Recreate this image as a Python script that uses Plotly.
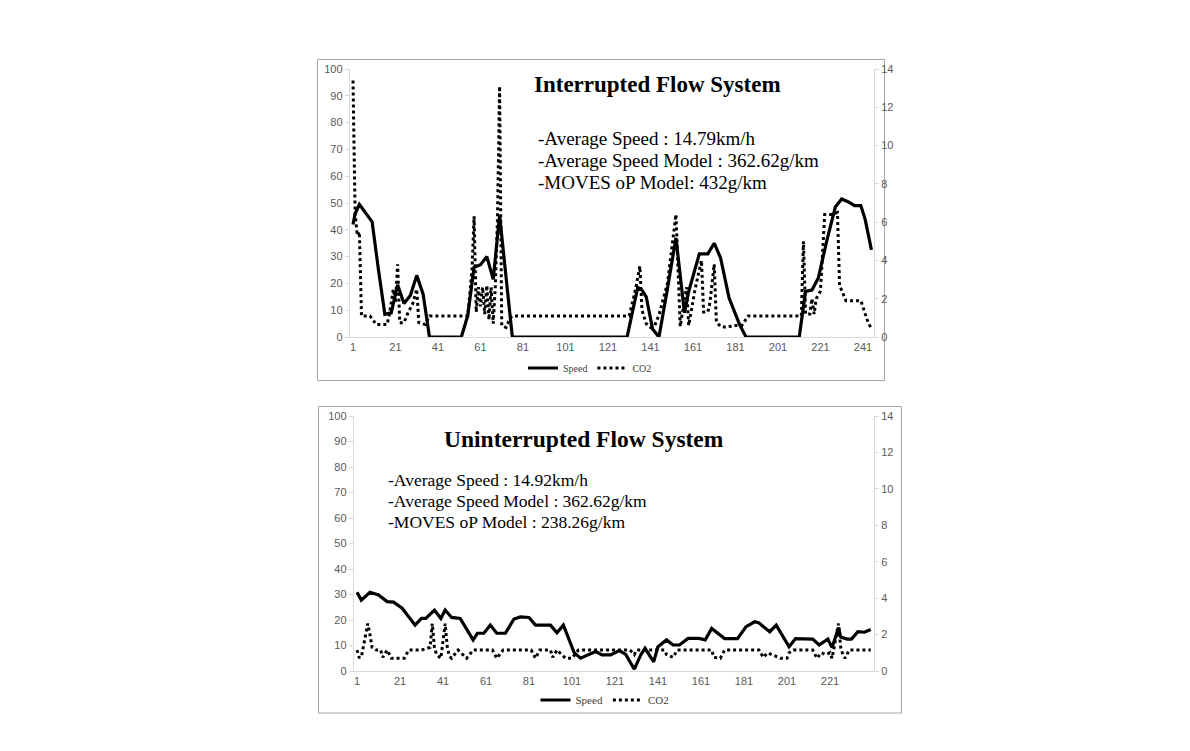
import plotly.graph_objects as go

W, H = 1190, 751

# ---------------- data: Interrupted Flow System ----------------
top_speed_x = [1, 2, 4, 7, 10, 13, 16, 19, 22, 25, 28, 31, 34, 37, 52, 55, 58, 61, 64, 67, 70, 74, 76,
               130, 135, 137, 139, 142, 145, 149, 153, 157, 159, 164, 168, 171, 174, 178, 183, 186,
               211, 214, 217, 220, 224, 228, 231, 234, 237, 240, 242, 245]
top_speed_y = [42, 46, 49.5, 46, 43, 25, 8.5, 9, 19.5, 12.5, 15.5, 23, 16, 0, 0, 8, 26, 27, 30, 21.5, 45.5, 15, 0,
               0, 18.5, 17.5, 15, 3, 0, 18, 37, 9, 17, 31, 31, 35, 29.5, 14.5, 4.5, 0,
               0, 17, 17.5, 22, 36, 48.5, 51.5, 50.5, 49, 49, 44, 32.5]

top_co2_x = [1, 2, 3, 4, 5, 9, 12, 17, 18, 20, 21, 22, 23, 25, 27, 29, 31, 32, 35, 37,
             55, 57, 58, 59, 60, 61, 62, 63, 64, 65, 66, 67, 68, 69, 70, 71, 73, 75, 76,
             131, 134, 136, 137, 139, 141, 143, 145, 149, 153, 154, 155, 158, 159, 162, 165, 166, 168, 169,
             171, 172, 174, 177, 180, 184, 187,
             212, 213, 214, 216, 217, 218, 219, 221, 223, 226, 229, 230, 233, 240, 243, 245]
top_co2_y = [13.4, 6.5, 5.3, 5.5, 1.1, 1.1, 0.65, 0.65, 1.1, 2.5, 1.8, 3.8, 0.75, 0.75, 1.3, 1.7, 2.5, 0.75, 0.65, 1.1,
             1.1, 3.5, 6.3, 1.3, 2.6, 1.6, 2.6, 1.2, 2.7, 0.9, 2.6, 0.7, 2.7, 6.2, 13.1, 0.6, 0.5, 1.0, 1.1,
             1.1, 2.5, 3.7, 1.4, 0.7, 0.5, 0.6, 1.15, 2.8, 6.4, 3.0, 0.55, 2.6, 0.6, 2.5, 4.0, 1.3, 1.3, 1.8,
             3.8, 0.8, 0.55, 0.5, 0.6, 0.6, 1.1,
             1.1, 5.0, 1.2, 1.2, 2.0, 1.2, 2.0, 2.4, 6.4, 6.4, 6.5, 2.7, 1.9, 1.9, 0.9, 0.4]

# ---------------- data: Uninterrupted Flow System ----------------
bot_speed_x = [1, 3, 7, 11, 15, 18, 22, 28, 31, 33, 37, 40, 42, 45, 49, 55, 57, 60, 63, 66, 70, 74, 77, 81, 84,
               91, 94, 97, 102, 105, 112, 115, 119, 123, 126, 130, 133, 135, 139, 141, 145, 148, 151, 155, 160,
               163, 166, 172, 178, 182, 186, 188, 193, 196, 202, 205, 213, 216, 220, 222, 225, 226, 229, 231,
               234, 237, 240]
bot_speed_y = [30.9, 27.8, 30.9, 29.8, 27.2, 27, 24.6, 18, 20.6, 20.6, 23.9, 20.6, 23.9, 21, 20.6, 12.2, 14.8,
               14.8, 18, 14.8, 14.8, 20.4, 21.2, 21, 18, 18, 15, 18, 7.2, 5, 7.6, 6.3, 6.3, 8, 6.5, 0.7, 6.3,
               8.9, 3.6, 9.5, 12.2, 10.2, 10.2, 12.8, 12.8, 12.2, 16.7, 12.7, 12.7, 17.4, 19.3, 18.8, 15.4,
               18, 9.5, 12.7, 12.5, 10.2, 12.5, 9.2, 17, 13.3, 12.5, 12.5, 15.4, 15.2, 16.3]

bot_co2_x = [1, 2, 3, 4, 6, 7, 8, 10, 12, 13, 15, 17, 23, 25, 31, 35, 36, 37, 38, 40, 42, 43, 44, 45, 48, 52,
             55, 64, 66, 69, 82, 84, 86, 91, 92, 94, 96, 98, 101, 104, 128, 130, 131, 144, 145, 148, 150,
             166, 167, 170, 172, 188, 190, 192, 195, 198, 201, 202, 204, 213, 215, 217, 219, 221, 222, 223,
             224, 225, 226, 227, 228, 230, 240]
bot_co2_y = [1.15, 0.75, 0.75, 1.4, 2.6, 2.0, 1.3, 1.15, 1.15, 0.75, 1.15, 0.7, 0.7, 1.15, 1.15, 1.3, 2.6, 1.3,
             0.9, 0.7, 2.6, 1.3, 0.8, 0.7, 1.15, 0.7, 1.15, 1.15, 0.7, 1.15, 1.15, 0.7, 1.15, 1.15, 0.75,
             1.15, 0.9, 0.7, 0.7, 1.15, 1.15, 0.9, 1.15, 1.15, 0.9, 0.75, 1.15, 1.15, 0.75, 0.7, 1.15, 1.15,
             0.75, 1.0, 0.85, 0.7, 0.7, 1.0, 1.15, 1.15, 0.7, 1.0, 0.9, 1.0, 0.7, 1.3, 1.8, 2.6, 1.3, 0.9,
             0.7, 1.15, 1.15]

left_ticks = [0, 10, 20, 30, 40, 50, 60, 70, 80, 90, 100]
right_ticks = [0, 2, 4, 6, 8, 10, 12, 14]
top_xticks = [1, 21, 41, 61, 81, 101, 121, 141, 161, 181, 201, 221, 241]
bot_xticks = [1, 21, 41, 61, 81, 101, 121, 141, 161, 181, 201, 221]

top_title = "Interrupted Flow System"
top_lines = ["-Average Speed : 14.79km/h", "-Average Speed Model : 362.62g/km", "-MOVES oP Model: 432g/km"]
bot_title = "Uninterrupted Flow System"
bot_lines = ["-Average Speed : 14.92km/h", "-Average Speed Model : 362.62g/km", "-MOVES oP Model : 238.26g/km"]


def px(x):
    return x / W


def py(y):
    return 1 - y / H


fig = go.Figure()
speed_line = dict(color="black", width=3.2)
co2_line = dict(color="black", width=3, dash="3px,3px")

fig.add_trace(go.Scatter(x=top_speed_x, y=top_speed_y, mode="lines", name="Speed", line=speed_line,
                         xaxis="x", yaxis="y", legend="legend"))
fig.add_trace(go.Scatter(x=top_co2_x, y=top_co2_y, mode="lines", name="CO2", line=co2_line,
                         xaxis="x", yaxis="y2", legend="legend"))
fig.add_trace(go.Scatter(x=bot_speed_x, y=bot_speed_y, mode="lines", name="Speed", line=speed_line,
                         xaxis="x2", yaxis="y3", legend="legend2"))
fig.add_trace(go.Scatter(x=bot_co2_x, y=bot_co2_y, mode="lines", name="CO2", line=co2_line,
                         xaxis="x2", yaxis="y4", legend="legend2"))

tickfont = dict(family="Liberation Sans, Arial, sans-serif", size=11, color="#595959")
axcol = "#d9d9d9"
common_y = dict(showgrid=False, zeroline=False, showline=True, linecolor=axcol, linewidth=1,
                ticks="outside", ticklen=4, tickcolor=axcol, tickfont=tickfont, fixedrange=True,
                automargin=False)
common_x = dict(showgrid=False, zeroline=False, showline=True, linecolor=axcol, linewidth=1,
                ticks="", tickfont=tickfont, tickangle=0, automargin=False, fixedrange=True)

# chart geometry (pixels)
tx0, tx1, ty0, ty1 = 349.8, 874.0, 69.0, 337.0
bx0, bx1, by0, by1 = 353.8, 874.0, 416.0, 671.0

fig.update_layout(
    width=W, height=H, margin=dict(l=0, r=0, t=0, b=0, pad=0, autoexpand=False),
    paper_bgcolor="white", plot_bgcolor="rgba(0,0,0,0)",
    xaxis=dict(common_x, domain=[px(tx0), px(tx1)], range=[-0.5, 246.2], anchor="y",
               tickvals=top_xticks, ticktext=[str(v) for v in top_xticks]),
    yaxis=dict(common_y, domain=[py(ty1), py(ty0)], range=[0, 100], anchor="x",
               tickvals=left_ticks),
    yaxis2=dict(common_y, range=[0, 14], overlaying="y", side="right", anchor="x",
                tickvals=right_ticks),
    xaxis2=dict(common_x, domain=[px(bx0), px(bx1)], range=[-0.5, 241.5], anchor="y3",
                tickvals=bot_xticks, ticktext=[str(v) for v in bot_xticks]),
    yaxis3=dict(common_y, domain=[py(by1), py(by0)], range=[0, 100], anchor="x2",
                tickvals=left_ticks),
    yaxis4=dict(common_y, range=[0, 14], overlaying="y3", side="right", anchor="x2",
                tickvals=right_ticks),
    legend=dict(orientation="h", x=px(590), y=py(368), xanchor="center", yanchor="middle",
                font=dict(family="Liberation Serif, Times New Roman, serif", size=10, color="#404040"),
                itemwidth=30, bgcolor="rgba(0,0,0,0)", tracegroupgap=0),
    legend2=dict(orientation="h", x=px(605), y=py(700), xanchor="center", yanchor="middle",
                 font=dict(family="Liberation Serif, Times New Roman, serif", size=11, color="#404040"),
                 itemwidth=30, bgcolor="rgba(0,0,0,0)", tracegroupgap=0),
    showlegend=True,
)

# chart frames
fig.add_shape(type="rect", xref="paper", yref="paper", x0=px(317.5), x1=px(884.5), y0=py(380.5), y1=py(59.5),
              line=dict(color="#a6a6a6", width=1), fillcolor="rgba(0,0,0,0)", layer="below")
fig.add_shape(type="rect", xref="paper", yref="paper", x0=px(318.5), x1=px(901.5), y0=py(713.0), y1=py(406.5),
              line=dict(color="#a6a6a6", width=1), fillcolor="rgba(0,0,0,0)", layer="below")

serif = "Liberation Serif, Times New Roman, serif"
fig.add_annotation(text="<b>" + top_title + "</b>", xref="paper", yref="paper", x=px(532), y=py(85),
                   xanchor="left", yanchor="middle", showarrow=False,
                   font=dict(family=serif, size=23, color="black"))
for t, yy in zip(top_lines, [139, 161, 182]):
    fig.add_annotation(text=t, xref="paper", yref="paper", x=px(536), y=py(yy),
                       xanchor="left", yanchor="middle", showarrow=False,
                       font=dict(family=serif, size=19, color="black"))

fig.add_annotation(text="<b>" + bot_title + "</b>", xref="paper", yref="paper", x=px(442), y=py(439),
                   xanchor="left", yanchor="middle", showarrow=False,
                   font=dict(family=serif, size=23.5, color="black"))
for t, yy in zip(bot_lines, [480, 501, 522]):
    fig.add_annotation(text=t, xref="paper", yref="paper", x=px(386), y=py(yy),
                       xanchor="left", yanchor="middle", showarrow=False,
                       font=dict(family=serif, size=17.5, color="black"))

fig.write_html("out.html", config={"displayModeBar": False, "responsive": False},
               post_script="document.body.style.margin='0';document.body.style.overflow='hidden';")
